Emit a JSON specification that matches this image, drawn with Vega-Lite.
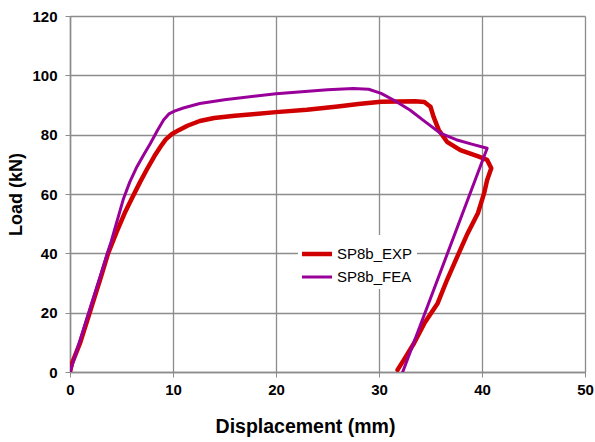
{
  "$schema": "https://vega.github.io/schema/vega-lite/v6.json",
  "width": 515,
  "height": 356,
  "autosize": {"type": "none"},
  "padding": {"left": 70, "top": 16, "right": 10, "bottom": 70},
  "background": "white",
  "config": {
    "font": "Liberation Sans",
    "view": {"stroke": null}
  },
  "data": {
    "values": [
      {"s": "SP8b_EXP", "i": 0, "x": 0, "y": 0},
      {"s": "SP8b_EXP", "i": 1, "x": 0.2, "y": 3},
      {"s": "SP8b_EXP", "i": 2, "x": 1, "y": 10},
      {"s": "SP8b_EXP", "i": 3, "x": 2, "y": 21},
      {"s": "SP8b_EXP", "i": 4, "x": 3, "y": 32},
      {"s": "SP8b_EXP", "i": 5, "x": 3.7, "y": 40},
      {"s": "SP8b_EXP", "i": 6, "x": 4.5, "y": 47},
      {"s": "SP8b_EXP", "i": 7, "x": 5.3, "y": 53.5},
      {"s": "SP8b_EXP", "i": 8, "x": 6, "y": 58.5},
      {"s": "SP8b_EXP", "i": 9, "x": 6.8, "y": 64},
      {"s": "SP8b_EXP", "i": 10, "x": 7.5, "y": 68.5},
      {"s": "SP8b_EXP", "i": 11, "x": 8.2, "y": 72.8},
      {"s": "SP8b_EXP", "i": 12, "x": 8.8, "y": 76},
      {"s": "SP8b_EXP", "i": 13, "x": 9.3, "y": 78.4},
      {"s": "SP8b_EXP", "i": 14, "x": 9.9, "y": 80.2},
      {"s": "SP8b_EXP", "i": 15, "x": 10.6, "y": 81.6},
      {"s": "SP8b_EXP", "i": 16, "x": 11.4, "y": 83},
      {"s": "SP8b_EXP", "i": 17, "x": 12.6, "y": 84.6},
      {"s": "SP8b_EXP", "i": 18, "x": 14, "y": 85.6},
      {"s": "SP8b_EXP", "i": 19, "x": 16, "y": 86.4},
      {"s": "SP8b_EXP", "i": 20, "x": 18, "y": 87},
      {"s": "SP8b_EXP", "i": 21, "x": 20, "y": 87.6},
      {"s": "SP8b_EXP", "i": 22, "x": 23, "y": 88.4},
      {"s": "SP8b_EXP", "i": 23, "x": 26, "y": 89.5},
      {"s": "SP8b_EXP", "i": 24, "x": 28, "y": 90.3},
      {"s": "SP8b_EXP", "i": 25, "x": 30.2, "y": 91.1},
      {"s": "SP8b_EXP", "i": 26, "x": 33.5, "y": 91.3},
      {"s": "SP8b_EXP", "i": 27, "x": 34.4, "y": 91},
      {"s": "SP8b_EXP", "i": 28, "x": 35, "y": 89.4},
      {"s": "SP8b_EXP", "i": 29, "x": 35.3, "y": 86},
      {"s": "SP8b_EXP", "i": 30, "x": 35.8, "y": 81.6},
      {"s": "SP8b_EXP", "i": 31, "x": 36.6, "y": 77.6},
      {"s": "SP8b_EXP", "i": 32, "x": 37.9, "y": 74.8},
      {"s": "SP8b_EXP", "i": 33, "x": 39.7, "y": 72.6},
      {"s": "SP8b_EXP", "i": 34, "x": 40.5, "y": 71.5},
      {"s": "SP8b_EXP", "i": 35, "x": 40.9, "y": 68.7},
      {"s": "SP8b_EXP", "i": 36, "x": 40.5, "y": 64.7},
      {"s": "SP8b_EXP", "i": 37, "x": 40.2, "y": 60.2},
      {"s": "SP8b_EXP", "i": 38, "x": 39.6, "y": 53.5},
      {"s": "SP8b_EXP", "i": 39, "x": 38.6, "y": 46.7},
      {"s": "SP8b_EXP", "i": 40, "x": 37.6, "y": 38.9},
      {"s": "SP8b_EXP", "i": 41, "x": 36.6, "y": 31},
      {"s": "SP8b_EXP", "i": 42, "x": 35.7, "y": 23.2},
      {"s": "SP8b_EXP", "i": 43, "x": 34.4, "y": 16.4},
      {"s": "SP8b_EXP", "i": 44, "x": 33.4, "y": 9.7},
      {"s": "SP8b_EXP", "i": 45, "x": 32.4, "y": 4},
      {"s": "SP8b_EXP", "i": 46, "x": 31.8, "y": 0.7},
      {"s": "SP8b_FEA", "i": 0, "x": 0, "y": 0},
      {"s": "SP8b_FEA", "i": 1, "x": 1, "y": 11},
      {"s": "SP8b_FEA", "i": 2, "x": 2, "y": 22},
      {"s": "SP8b_FEA", "i": 3, "x": 3, "y": 33},
      {"s": "SP8b_FEA", "i": 4, "x": 4, "y": 44},
      {"s": "SP8b_FEA", "i": 5, "x": 5.2, "y": 58.5},
      {"s": "SP8b_FEA", "i": 6, "x": 5.8, "y": 64},
      {"s": "SP8b_FEA", "i": 7, "x": 6.5, "y": 69.2},
      {"s": "SP8b_FEA", "i": 8, "x": 7.2, "y": 73.5},
      {"s": "SP8b_FEA", "i": 9, "x": 7.8, "y": 77},
      {"s": "SP8b_FEA", "i": 10, "x": 8.5, "y": 81.5},
      {"s": "SP8b_FEA", "i": 11, "x": 9.1, "y": 85},
      {"s": "SP8b_FEA", "i": 12, "x": 9.6, "y": 87},
      {"s": "SP8b_FEA", "i": 13, "x": 10.2, "y": 88},
      {"s": "SP8b_FEA", "i": 14, "x": 11, "y": 89},
      {"s": "SP8b_FEA", "i": 15, "x": 12.6, "y": 90.5},
      {"s": "SP8b_FEA", "i": 16, "x": 15, "y": 91.8},
      {"s": "SP8b_FEA", "i": 17, "x": 20, "y": 93.8},
      {"s": "SP8b_FEA", "i": 18, "x": 25, "y": 95.1},
      {"s": "SP8b_FEA", "i": 19, "x": 27.5, "y": 95.6},
      {"s": "SP8b_FEA", "i": 20, "x": 29, "y": 95.3},
      {"s": "SP8b_FEA", "i": 21, "x": 30.2, "y": 93.9},
      {"s": "SP8b_FEA", "i": 22, "x": 31.5, "y": 91.5},
      {"s": "SP8b_FEA", "i": 23, "x": 33, "y": 88.3},
      {"s": "SP8b_FEA", "i": 24, "x": 34.5, "y": 84.3},
      {"s": "SP8b_FEA", "i": 25, "x": 36, "y": 80.4},
      {"s": "SP8b_FEA", "i": 26, "x": 37.5, "y": 78.3},
      {"s": "SP8b_FEA", "i": 27, "x": 39, "y": 76.8},
      {"s": "SP8b_FEA", "i": 28, "x": 40.5, "y": 75.4},
      {"s": "SP8b_FEA", "i": 29, "x": 32.3, "y": 0}
    ]
  },
  "mark": {"type": "line", "interpolate": "linear", "strokeJoin": "round", "strokeCap": "round", "clip": true},
  "encoding": {
    "x": {
      "field": "x", "type": "quantitative",
      "scale": {"domain": [0, 50], "nice": false, "zero": true},
      "axis": {
        "values": [0, 10, 20, 30, 40, 50],
        "labelFlush": false,
        "title": "Displacement (mm)",
        "titleX": 235,
        "titleAlign": "center",
        "titleFont": "Liberation Sans", "titleFontSize": 19.5, "titleFontWeight": "bold", "titleColor": "black",
        "titlePadding": 20,
        "labelFont": "Liberation Sans", "labelFontSize": 15, "labelFontWeight": "bold", "labelColor": "black",
        "labelPadding": 5,
        "tickSize": 5, "tickColor": "#8c8c8c",
        "domainColor": "#8c8c8c", "domainWidth": 1.5,
        "grid": true, "gridColor": "#8c8c8c", "gridWidth": 1.3
      }
    },
    "y": {
      "field": "y", "type": "quantitative",
      "scale": {"domain": [0, 120], "nice": false},
      "axis": {
        "values": [0, 20, 40, 60, 80, 100, 120],
        "labelFlush": false,
        "title": "Load (kN)",
        "titleFont": "Liberation Sans", "titleFontSize": 18, "titleFontWeight": "bold", "titleColor": "black",
        "titlePadding": 6,
        "labelFont": "Liberation Sans", "labelFontSize": 15, "labelFontWeight": "bold", "labelColor": "black",
        "labelPadding": 8,
        "tickSize": 5, "tickColor": "#8c8c8c",
        "domainColor": "#8c8c8c", "domainWidth": 1.5,
        "grid": true, "gridColor": "#8c8c8c", "gridWidth": 1.3
      }
    },
    "color": {
      "field": "s", "type": "nominal",
      "scale": {"domain": ["SP8b_EXP", "SP8b_FEA"], "range": ["#d00000", "#990099"]},
      "legend": {
        "title": null,
        "orient": "none",
        "legendX": 228,
        "legendY": 219,
        "symbolType": "M-1.2,0H1.2",
        "symbolSize": 625,
        "symbolStrokeWidth": 3.5,
        "symbolFillColor": "transparent",
        "labelFont": "Liberation Sans",
        "labelFontSize": 15,
        "labelColor": "black",
        "labelOffset": 5,
        "rowPadding": 0,
        "fillColor": "white",
        "padding": 4
      }
    },
    "strokeWidth": {
      "field": "s", "type": "nominal",
      "scale": {"domain": ["SP8b_EXP", "SP8b_FEA"], "range": [4.5, 3]},
      "legend": null
    },
    "order": {"field": "i", "type": "quantitative"}
  }
}
